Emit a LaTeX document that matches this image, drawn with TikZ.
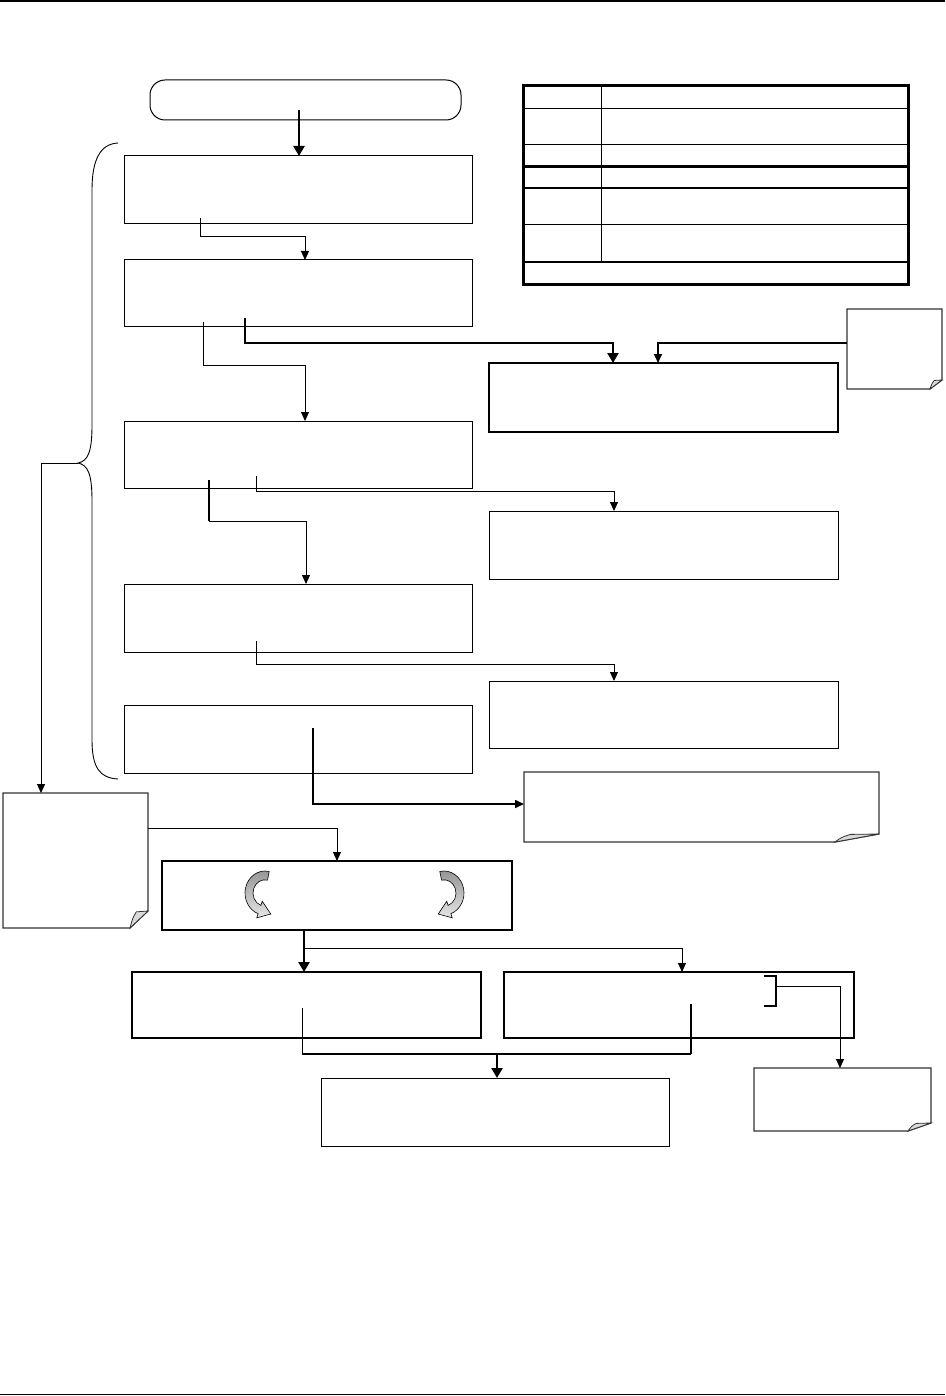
\documentclass[tikz,border=0pt]{standalone}
\usepackage{tikz}
\usetikzlibrary{arrows.meta,positioning,calc}

\newcommand\foldnote[3]{%
  \draw[notebd] (#1.north west) -- (#1.north east) -- ([yshift=#3]#1.south east)
    -- ([xshift=-#2]#1.south east) -- (#1.south west) -- cycle;
  \draw[notebd,line width=0.8pt,fill=gray!30] ([xshift=-#2]#1.south east)
    .. controls ([xshift=-0.85*#2,yshift=0.6*#3]#1.south east) .. ([xshift=-0.65*#2,yshift=0.95*#3]#1.south east)
    -- ([yshift=#3]#1.south east) -- cycle;}

\newcommand\turnarrow[3]{%
  \begin{scope}[shift={(#1,#2)},xscale=#3,yscale=1.1]
    \draw[line width=0.6pt,top color=gray!85,bottom color=gray!20]
      (78:20pt) arc[start angle=78,end angle=250,radius=20pt] -- (250:24pt)
      -- (5.8pt,-19.1pt) -- (250:8pt) -- (250:12pt)
      arc[start angle=250,end angle=78,radius=12pt] -- cycle;
  \end{scope}}

\begin{document}
\begin{tikzpicture}[x=1pt,y=1pt,>={Triangle[length=9pt,width=8pt]},
        box/.style={draw,line width=1pt,inner sep=0pt,outer sep=0pt,anchor=north west},
        heavy/.style={box,line width=2pt},
        note/.style={inner sep=0pt,outer sep=0pt,anchor=north west},
        notebd/.style={draw=black!80,line width=1.2pt},
        link/.style={line width=1pt},
        mid/.style={line width=1.6pt},
        bus/.style={line width=2.6pt,>={Triangle[length=10pt,width=11pt]}}]
  \useasboundingbox (0,0) rectangle (945,-1396);
  \draw[line width=1.5pt] (0,-1) -- (945,-1);
  \draw[line width=1.5pt] (0,-1394.5) -- (945,-1394.5);

  % main column
  \node[box,rounded corners=15pt,minimum width=311pt,minimum height=40pt] (start) at (150,-80) {};
  \node[box,minimum width=348pt,minimum height=68pt] (b1) at (124,-156) {};
  \node[box,minimum width=348pt,minimum height=66pt] (b2) at (124,-260) {};
  \node[box,minimum width=348pt,minimum height=67pt] (b3) at (124,-421) {};
  \node[box,minimum width=348pt,minimum height=68pt] (b4) at (124,-584) {};
  \node[box,minimum width=348pt,minimum height=68pt] (b5) at (124,-705) {};

  % key
  \node[box,line width=3pt,minimum width=385pt,minimum height=199pt] (key) at (523,-85.5) {};
  \draw[line width=1pt] (601,-87) -- (601,-262);
  \foreach \y/\w in {109/1,145/1,166.5/2.2,188/2.2,224.5/1,262/2.2}
    \draw[line width=\w pt] (522,-\y) -- (907,-\y);

  % right column
  \node[heavy,minimum width=349pt,minimum height=69pt] (r1) at (489,-363) {};
  \node[box,minimum width=349pt,minimum height=68pt] (r2) at (489,-511) {};
  \node[box,minimum width=349pt,minimum height=67pt] (r3) at (489,-681) {};
  \node[note,minimum width=95pt,minimum height=80pt] (n1) at (847,-309) {};
  \node[note,minimum width=355pt,minimum height=70pt] (n2) at (524,-772) {};
  \node[note,minimum width=145pt,minimum height=135pt] (n0) at (3,-793) {};
  \node[note,minimum width=177pt,minimum height=63pt] (n3) at (754,-1068) {};
  \foldnote{n0}{18pt}{17pt}
  \foldnote{n1}{12pt}{9pt}
  \foldnote{n2}{44pt}{8pt}
  \foldnote{n3}{23pt}{8pt}

  % lower part
  \node[box,line width=1.4pt,minimum width=350pt,minimum height=69pt] (rot) at (162,-861) {};
  \node[box,line width=1.2pt,minimum width=349pt,minimum height=66pt] (l6) at (132,-972) {};
  \node[box,line width=1.2pt,minimum width=350pt,minimum height=66pt] (r6) at (504,-972) {};
  \node[box,minimum width=348pt,minimum height=68pt] (bot) at (321,-1078) {};
  \turnarrow{265}{-893}{1}
  \turnarrow{444}{-893}{-1}

  % brace
  \draw[line width=0.9pt] (118,-143) .. controls (100,-144) and (92,-160) .. (92,-190)
    -- (92,-425) .. controls (92,-452) and (88,-461) .. (78,-463)
    .. controls (88,-465) and (92,-474) .. (92,-501)
    -- (92,-740) .. controls (92,-768) and (100,-778) .. (118,-779);

  \coordinate (s0) at (299,-110);
  \coordinate (c1) at (200,-218);
  \coordinate (c2a) at (245,-318);
  \coordinate (c2b) at (203,-322);
  \coordinate (c3a) at (256,-476);
  \coordinate (c3b) at (209,-480);
  \coordinate (c4) at (256,-641);
  \coordinate (c5) at (313,-728);
  \coordinate (tip) at (78,-463);
  \coordinate (j) at ([xshift=-33pt]rot.south);
  \coordinate (jj) at ([yshift=-18pt]j);
  \coordinate (c6a) at (302,-1008);
  \coordinate (c6b) at (691,-1004);
  \coordinate (mrg) at (497,-1054);
  \coordinate (brk) at (776,-986);

  \draw[bus,->] (s0) -- (s0 |- b1.north);
  \draw[link,->] (c1) -- ++(0,-19) -| ([xshift=7pt]b2.north);
  \draw[bus,->] (c2a) -- ++(0,-25) -| ([xshift=-50.5pt]r1.north);
  \draw[mid,->] ([yshift=6pt]n1.west) -| ([xshift=-5.5pt]r1.north);
  \draw[link,->] (c2b) -- ++(0,-43) -| ([xshift=7pt]b3.north);
  \draw[link,->] (c3a) -- ++(0,-15) -| ([xshift=-49.5pt]r2.north);
  \draw[link,->] (c3b) -- ++(0,-41) -| ([xshift=8pt]b4.north);
  \draw[bus] (c3b) -- ++(0,-41);
  \draw[link,->] (c4) -- ++(0,-23) -| ([xshift=-49.5pt]r3.north);
  \draw[mid,->] (c5) |- ([yshift=3pt]n2.west);
  \draw[bus] (c5) -- ++(0,-76);
  \draw[link,->] (tip) -| ([xshift=-34.5pt]n0.north);
  \draw[link,->] ([yshift=32.5pt]n0.east) -| (rot.north);
  \draw[bus,->] (j) -- (j |- l6.north);
  \draw[link,->] (jj) -| ([xshift=3pt]r6.north);
  \draw[link] (c6a) -- (c6a |- mrg);
  \draw[mid] (c6a |- mrg) -- (c6b |- mrg);
  \draw[bus] (c6b) -- (c6b |- mrg);
  \draw[bus,->] (mrg) -- (mrg |- bot.north);
  \draw[line width=1.5pt] (764,-976) -| (776,-1006) -- (764,-1006);
  \draw[link,->] (brk) -| ([xshift=-2.5pt]n3.north);
\end{tikzpicture}
\end{document}
